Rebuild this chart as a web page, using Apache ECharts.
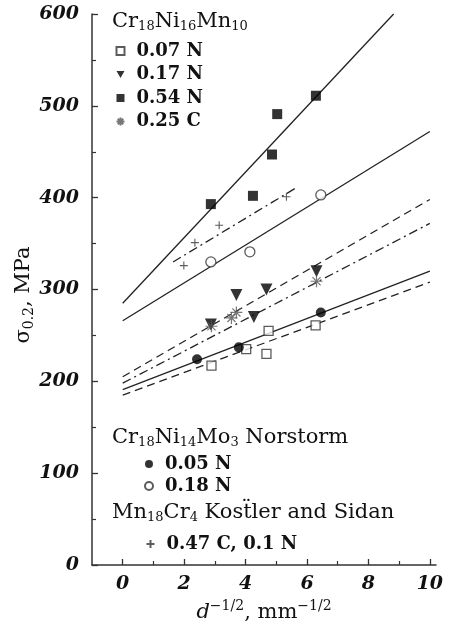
<!DOCTYPE html>
<html><head><meta charset="utf-8">
<script src="https://cdn.jsdelivr.net/npm/echarts@6/dist/echarts.min.js"></script>
<style>html,body{margin:0;padding:0;background:#fff}#c{width:453px;height:631px}</style>
</head><body><div id="c"></div>
<script>
// ---- data ----
const n007X = [2.89, 4.02, 4.68, 4.75, 6.28];
const n007Y = [217, 235, 230, 255, 261];
const n017X = [2.87, 3.70, 4.27, 4.68, 6.31];
const n017Y = [262, 294, 270, 300, 320];
const n054X = [2.87, 4.24, 4.86, 5.03, 6.29];
const n054Y = [393, 402, 447, 491, 511];
const c025X = [2.89, 3.54, 3.70, 6.31];
const c025Y = [260, 269, 275, 309];
const n005X = [2.42, 3.78, 6.45];
const n005Y = [224, 237, 275];
const n018X = [2.87, 4.14, 6.45];
const n018Y = [330, 341, 403];
const mnX = [1.99, 2.35, 3.14, 5.33];
const mnY = [326, 351, 370, 401];
// fitted lines (end points)
const fit054X = [0, 8.82], fit054Y = [285, 600];
const fit018X = [0, 10],   fit018Y = [266, 472];
const fit017X = [0, 10],   fit017Y = [205, 398];
const fit025X = [0, 10],   fit025Y = [198, 372];
const fit005X = [0, 10],   fit005Y = [191, 320];
const fit007X = [0, 10],   fit007Y = [185, 308];
const fitMnX = [1.64, 5.71], fitMnY = [330, 412];
const xMajorTicks = [0, 2, 4, 6, 8, 10];
const xMinorTicks = [1, 3, 5, 7, 9];

const zip = (xs, ys) => xs.map((x, i) => [x, ys[i]]);
const F = 'DejaVu Serif';
const ink = '#111';

function scatter(name, xs, ys, symbol, size, style, extra) {
  return Object.assign({
    name, type: 'scatter', data: zip(xs, ys), symbol, symbolSize: size,
    itemStyle: style, z: 5
  }, extra || {});
}
function fit(xs, ys, type) {
  return {
    type: 'line', data: zip(xs, ys), symbol: 'none', silent: true,
    lineStyle: { color: '#222', width: 1.3, type: type }, z: 3
  };
}
const dashed = [8, 5];
const dashDot = [9, 4, 2, 4];
const star = 'path://M5,0L5,10M0,5L10,5M1.6,1.6L8.4,8.4M8.4,1.6L1.6,8.4';
const plus = 'path://M5,0L5,10M0,5L10,5';
const triDown = 'path://M0,0L10,0L5,9Z';

const chart = echarts.init(document.getElementById('c'));
const legendText = { fontFamily: F, fontWeight: 'bold', fontSize: 18, color: ink, padding: [0, 0, 0, 7] };
chart.setOption({
  backgroundColor: '#fff',
  animation: false,
  grid: { left: 92, right: 17, top: 14, bottom: 66, containLabel: false, outerBoundsMode: 'none' },
  xAxis: [{
    type: 'value', min: -1, max: 10.2,
    axisLine: { onZero: false, lineStyle: { color: '#333', width: 1.5 } },
    axisTick: { inside: true, length: 6, customValues: xMajorTicks, lineStyle: { color: '#333', width: 1.3 } },
    axisLabel: { customValues: xMajorTicks, fontFamily: F, fontStyle: 'italic', fontWeight: 'bold', fontSize: 19, color: ink, margin: 10 },
    splitLine: { show: false },
    name: '{i|d}{sup|−1/2}{n|, mm}{sup|−1/2}',
    nameLocation: 'middle', nameGap: 33,
    nameTextStyle: {
      fontFamily: F, fontSize: 20, color: ink,
      rich: {
        i: { fontFamily: F, fontStyle: 'italic', fontSize: 21, color: ink, lineHeight: 24, verticalAlign: 'bottom' },
        n: { fontFamily: F, fontSize: 21, color: ink, lineHeight: 24, verticalAlign: 'bottom' },
        sup: { fontFamily: F, fontSize: 14, color: ink, lineHeight: 24, verticalAlign: 'top', padding: [0, 0, 9, 0] }
      }
    }
  }, {
    type: 'value', min: -1, max: 10.2, position: 'bottom',
    axisLine: { show: false },
    axisTick: { inside: true, length: 4, customValues: xMinorTicks, lineStyle: { color: '#333', width: 1.2 } },
    axisLabel: { show: false }, splitLine: { show: false }
  }],
  yAxis: {
    type: 'value', min: 0, max: 600, interval: 100,
    axisLine: { show: true, onZero: false, lineStyle: { color: '#333', width: 1.5 } },
    axisTick: { show: true, inside: true, length: 6, lineStyle: { color: '#333', width: 1.3 } },
    minorTick: { show: true, splitNumber: 2, length: 4, lineStyle: { color: '#333', width: 1.2 } },
    axisLabel: { fontFamily: F, fontStyle: 'italic', fontWeight: 'bold', fontSize: 19, color: ink, margin: 13 },
    splitLine: { show: false }
  },
  legend: [
    { data: ['0.07 N', '0.17 N', '0.54 N', '0.25 C'], orient: 'vertical', left: 114, top: 42,
      itemWidth: 8, itemHeight: 8, itemGap: 5.5, textStyle: legendText, padding: 0 },
    { data: ['0.05 N', '0.18 N'], orient: 'vertical', left: 144, top: 455,
      itemWidth: 8, itemHeight: 8, itemGap: 4, textStyle: legendText, padding: 0 },
    { data: ['0.47 C, 0.1 N'], orient: 'vertical', left: 144, top: 535,
      itemWidth: 8, itemHeight: 8, textStyle: legendText, padding: 0 }
  ],
  graphic: [
    { type: 'text', x: 24, y: 295, rotation: Math.PI / 2, style: {
        text: 'σ{sub|0.2}, MPa', font: '21px "DejaVu Serif"', fill: ink, align: 'center', verticalAlign: 'middle',
        rich: { sub: { fontSize: 14, fontFamily: F, fill: ink, padding: [10, 0, 0, 0], verticalAlign: 'bottom' } } } },
    { type: 'text', left: 112, top: 11, style: {
        text: 'Cr{s|18}Ni{s|16}Mn{s|10}', font: '21px "DejaVu Serif"', fill: ink,
        rich: { s: { fontSize: 13, fontFamily: F, fill: ink, padding: [11, 0, 0, 0], verticalAlign: 'bottom' } } } },
    { type: 'text', left: 112, top: 427, style: {
        text: 'Cr{s|18}Ni{s|14}Mo{s|3} Norstorm', font: '21px "DejaVu Serif"', fill: ink,
        rich: { s: { fontSize: 13, fontFamily: F, fill: ink, padding: [11, 0, 0, 0], verticalAlign: 'bottom' } } } },
    { type: 'text', left: 112, top: 502, style: {
        text: 'Mn{s|18}Cr{s|4} Kosẗler and Sidan', font: '21px "DejaVu Serif"', fill: ink,
        rich: { s: { fontSize: 13, fontFamily: F, fill: ink, padding: [11, 0, 0, 0], verticalAlign: 'bottom' } } } }
  ],
  series: [
    fit(fit054X, fit054Y, 'solid'),
    fit(fit018X, fit018Y, 'solid'),
    fit(fit017X, fit017Y, dashed),
    fit(fit025X, fit025Y, dashDot),
    fit(fit005X, fit005Y, 'solid'),
    fit(fit007X, fit007Y, dashed),
    fit(fitMnX, fitMnY, dashDot),
    scatter('0.07 N', n007X, n007Y, 'rect', 9, { color: '#fff', borderColor: '#333', borderWidth: 1.3 }),
    scatter('0.17 N', n017X, n017Y, triDown, 12, { color: '#000' }),
    scatter('0.54 N', n054X, n054Y, 'rect', 10, { color: '#000' }),
    scatter('0.25 C', c025X, c025Y, star, 12, { color: 'none', borderColor: '#555', borderWidth: 1.2 }),
    scatter('0.05 N', n005X, n005Y, 'circle', 10, { color: '#000' }),
    scatter('0.18 N', n018X, n018Y, 'circle', 10, { color: '#fff', borderColor: '#333', borderWidth: 1.3 }),
    scatter('0.47 C, 0.1 N', mnX, mnY, plus, 8, { color: 'none', borderColor: '#333', borderWidth: 1.1 })
  ]
});
</script></body></html>
